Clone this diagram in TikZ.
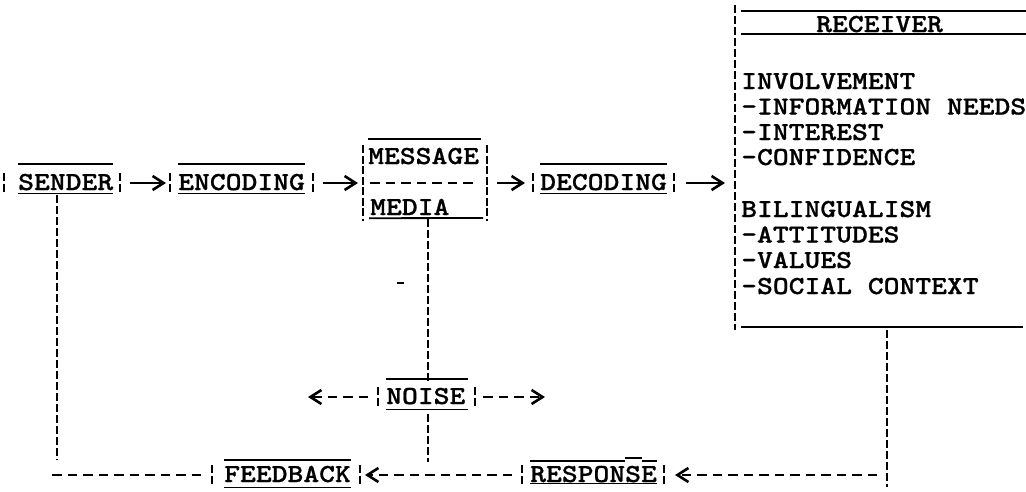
\documentclass[tikz,border=0pt]{standalone}
\usepackage{fontspec}
\usetikzlibrary{arrows.meta,calc}

% typewriter lettering: a slab-serif mono face, widened to typewriter pitch
\newfontfamily\twfont{lmmonolt10-bold}[Extension=.otf, FakeStretch=1.16, FakeBold=0.8]

\tikzset{
  lbl/.style={font=\twfont\fontsize{26}{26}\selectfont, inner sep=0pt, anchor=base west},
  bar/.style={line width=2.3pt, dash pattern=on 8pt off 2.5pt},
  vlink/.style={line width=2.3pt, dash pattern=on 8pt off 3pt},
  hlink/.style={line width=2.6pt, dash pattern=on 9.5pt off 6pt},
  short/.style={line width=2.6pt},
  rule/.style={line width=1.8pt},
  tip/.style={-{Straight Barb[length=11pt,width=14pt,line width=2.6pt]}},
}

% a broken bar of one text row, centred on a named point
\newcommand\rowbar[3]{%
  \coordinate (#1) at (#2,#3);
  \draw[bar] (#1) ++(0,-10) -- ++(0,20);
}

\begin{document}
\begin{tikzpicture}[x=1pt,y=-1pt]
\useasboundingbox[fill=white] (0,0) rectangle (1026,491);

% ---------------- main chain
\node[lbl] (sender)   at (18,190)  {SENDER};
\node[lbl] (encoding) at (178,190) {ENCODING};
\node[lbl] (message)  at (368,164) {MESSAGE};
\node[lbl] (media)    at (370,215) {MEDIA};
\node[lbl] (decoding) at (540,190) {DECODING};

\rowbar{sender-l}{4}{183}     \rowbar{sender-r}{120}{183}
\rowbar{encoding-l}{170}{183} \rowbar{encoding-r}{313}{183}
\rowbar{decoding-l}{533}{183} \rowbar{decoding-r}{674}{183}

\foreach \n in {sender,encoding,decoding}{
  \draw[rule] ([yshift=10pt]\n.north west) -- ([yshift=10pt]\n.north east);
  \draw[rule] ([yshift=-3pt]\n.south west) -- ([yshift=-3pt]\n.south east);
}

% message / media box: sides span three rows
\coordinate (message-l) at (363,183);
\coordinate (message-r) at (487,183);
\draw[bar] (message-l) ++(0,-38) -- ++(0,76);
\draw[bar] (message-r) ++(0,-38) -- ++(0,76);
\draw[rule] ([yshift=9pt]message.north west) -- ([yshift=9pt,xshift=2pt]message.north east);
\draw[hlink] ([xshift=7pt]message-l) -- ([xshift=-9pt]message-r);
\draw[rule] ([yshift=-3pt,xshift=-1pt]media.south west) -- (483,218);

% arrows of the chain
\draw[short,tip] ([xshift=10pt]sender-r)   -- ([xshift=-4pt]encoding-l);
\draw[short,tip] ([xshift=10pt]encoding-r) -- ([xshift=-5pt]message-l);
\draw[short,tip] ([xshift=10pt]message-r)  -- ([xshift=-8pt]decoding-l);

% ---------------- receiver
\coordinate (rcv-top) at (735,5);
\coordinate (rcv-bot) at (735,330);
\coordinate (rcv-in)  at (735,183);
\draw[vlink] (rcv-top) -- (rcv-bot);
\draw[short,tip] ([xshift=12pt]decoding-r) -- ([xshift=-10pt]rcv-in);

\draw[rule] (741,11) -- (1026,11);
\node[lbl] (receiver) at (816,32) {RECEIVER};
\draw[rule] (741,34) -- (1026,34);

\node[lbl] (involvement) at (741,89)    {INVOLVEMENT};
\node[lbl] (needs)       at (741,114.5) {-INFORMATION NEEDS};
\node[lbl] (interest)    at (741,140)   {-INTEREST};
\node[lbl] (confidence)  at (741,165)   {-CONFIDENCE};
\node[lbl] (bilingual)   at (741,217)   {BILINGUALISM};
\node[lbl] (attitudes)   at (741,242.5) {-ATTITUDES};
\node[lbl] (values)      at (741,268)   {-VALUES};
\node[lbl] (social)      at (741,294)   {-SOCIAL CONTEXT};

\draw[rule] (741,327) -- (1023,327);

% ---------------- noise
\node[lbl] (noise) at (386,404) {NOISE};
\rowbar{noise-l}{378}{397} \rowbar{noise-r}{475}{397}
\draw[rule] ([yshift=9pt]noise.north west) -- ([yshift=9pt,xshift=2pt]noise.north east);
\draw[rule] ([yshift=-5pt]noise.south west) -- ([yshift=-5pt,xshift=2pt]noise.south east);
\coordinate (noise-top)  at (428,381);
\coordinate (noise-foot) at (428,462);
\coordinate (noise-wend) at (308,397);
\coordinate (noise-eend) at (545,397);
\draw[vlink] ([yshift=-4pt]media.south -| noise-top) -- (noise-top);
\draw[vlink] ([yshift=-10pt]noise.south -| noise-foot) -- (noise-foot);
\draw[hlink,tip] ([xshift=-10pt]noise-l) -- (noise-wend);
\draw[hlink,tip] ([xshift=8pt]noise-r)   -- (noise-eend);

% stray typed mark
\draw[line width=2pt] (397,283) -- (404,283);

% ---------------- feedback loop
\node[lbl] (feedback) at (224,482) {FEEDBACK};
\node[lbl] (response) at (530,482) {RESPONSE};
\rowbar{feedback-l}{212}{475} \rowbar{feedback-r}{360}{475}
\rowbar{response-l}{522}{475} \rowbar{response-r}{664}{475}

\draw[rule] ([yshift=6pt]feedback.north west) -- ([yshift=6pt]feedback.north east);
\draw[rule] ([yshift=-5pt]feedback.south west) -- ([yshift=-5pt]feedback.south east);
\draw[rule] ([yshift=5pt]response.north west) -- ([xshift=95pt,yshift=5pt]response.north west);
\draw[rule] ([xshift=95pt,yshift=8pt]response.north west) -- ([xshift=112pt,yshift=8pt]response.north west);
\draw[rule] ([xshift=112pt,yshift=5pt]response.north west) -- ([yshift=5pt]response.north east);
\draw[rule] ([yshift=-1pt]response.south west) -- ([yshift=-1pt]response.south east);

% receiver back to response
\coordinate (rcv-drop)   at (887,330);
\coordinate (rcv-corner) at (887,475);
\draw[vlink] (rcv-drop) -- ([yshift=-12pt]rcv-corner);
\draw[hlink,tip] ([xshift=-10pt]rcv-corner) -- ([xshift=11pt]response-r);

% response to feedback
\draw[hlink,tip] ([xshift=-10pt]response-l) -- ([xshift=5pt]feedback-r);

% feedback back to sender
\coordinate (sender-foot) at (57,475);
\draw[vlink] ([yshift=-5pt]sender.south -| sender-foot) -- ([yshift=15pt]sender-foot);
\draw[hlink] ([xshift=-5pt]sender-foot) -- ([xshift=-7pt]feedback-l);

\end{tikzpicture}
\end{document}
